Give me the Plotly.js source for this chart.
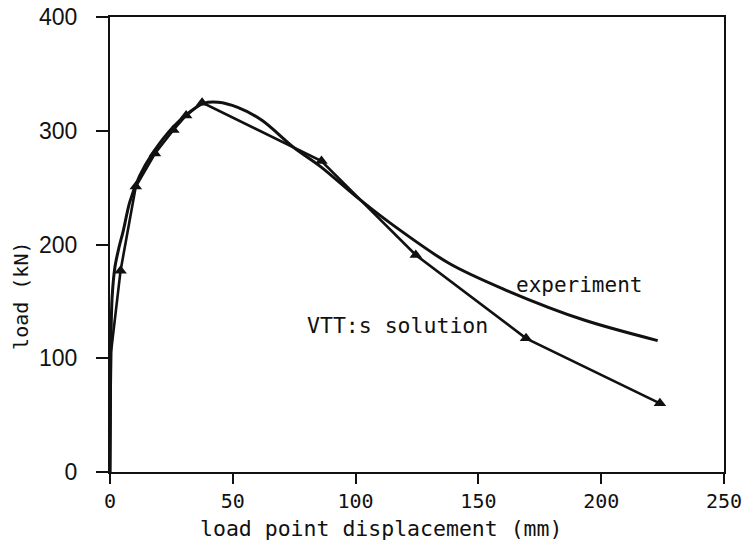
<!DOCTYPE html>
<html>
<head>
<meta charset="utf-8">
<script src="https://cdn.plot.ly/plotly-3.0.1.min.js"></script>
<style>html,body{margin:0;padding:0;background:#fff;}#chart{width:743px;height:541px;}</style>
</head>
<body>
<div id="chart"></div>
<script>
// Experiment curve (displacement mm, load kN)
var expX = [0, 0.15, 0.4, 0.9, 2, 3.5, 5.4, 8, 12, 17.6, 25.8, 32.6, 38, 44, 52, 62, 75, 86, 100, 114, 138, 160, 193, 223];
var expY = [0, 60, 120, 155, 180, 196, 212, 237, 260, 281, 303.5, 316.7, 324, 325, 320.5, 309, 285, 268, 242.5, 219, 183.5, 161, 133.6, 115.5];

// VTT:s solution (displacement mm, load kN)
var vttX = [0, 0.4, 4.3, 10.5, 18.3, 25.8, 31, 37.5, 86.1, 124.5, 169.4, 223.9];
var vttY = [0, 105, 177, 251, 280, 300.7, 313.5, 324.7, 273.4, 190.8, 117.5, 60.4];

var xTicks = [0, 50, 100, 150, 200, 250];
var yTicks = [0, 100, 200, 300, 400];

var ink = '#111';
var mono = 'DejaVu Sans Mono, monospace';

var traces = [
  {x: expX, y: expY, mode: 'lines', line: {color: ink, width: 3, shape: 'spline', smoothing: 0.8}, name: 'experiment'},
  {x: vttX, y: vttY, mode: 'lines', line: {color: ink, width: 2.6}, name: 'VTT:s solution'},
  {x: vttX.slice(2), y: vttY.slice(2), mode: 'markers', marker: {symbol: 'triangle-up', size: 11, color: ink}, cliponaxis: false, name: 'VTT points'}
];

var layout = {
  width: 743, height: 541,
  margin: {l: 110, r: 19, t: 17, b: 69, pad: 0},
  paper_bgcolor: '#fff', plot_bgcolor: '#fff',
  showlegend: false,
  xaxis: {
    range: [0, 250], autorange: false, tickvals: xTicks, ticktext: xTicks.map(String),
    ticks: 'outside', ticklen: 10, tickwidth: 2, tickcolor: ink,
    showline: true, linewidth: 2, linecolor: ink, mirror: true,
    showgrid: false, zeroline: false,
    tickfont: {family: mono, size: 20, color: ink}
  },
  yaxis: {
    range: [0, 400], autorange: false, tickvals: yTicks, ticktext: yTicks.map(String),
    ticks: 'outside', ticklen: 12, tickwidth: 2, tickcolor: ink,
    ticklabelstandoff: 14,
    showline: true, linewidth: 2, linecolor: ink, mirror: true,
    showgrid: false, zeroline: false,
    tickfont: {family: 'Liberation Sans, Arial, sans-serif', size: 23, color: ink}
  },
  annotations: [
    {text: 'load point displacement (mm)', xref: 'paper', yref: 'paper', x: 0.441, y: -0.124, xanchor: 'center', yanchor: 'middle', showarrow: false, font: {family: mono, size: 21.5, color: ink}},
    {text: 'load (kN)', xref: 'paper', yref: 'paper', x: -0.145, y: 0.387, xanchor: 'center', yanchor: 'middle', textangle: -90, showarrow: false, font: {family: mono, size: 20, color: ink}},
    {text: 'experiment', xref: 'x', yref: 'y', x: 190.8, y: 164, xanchor: 'center', yanchor: 'middle', showarrow: false, font: {family: mono, size: 21, color: ink}},
    {text: 'VTT:s solution', xref: 'x', yref: 'y', x: 117, y: 128.8, xanchor: 'center', yanchor: 'middle', showarrow: false, font: {family: mono, size: 21.5, color: ink}}
  ]
};

Plotly.newPlot('chart', traces, layout, {displayModeBar: false, staticPlot: true});
</script>
</body>
</html>
